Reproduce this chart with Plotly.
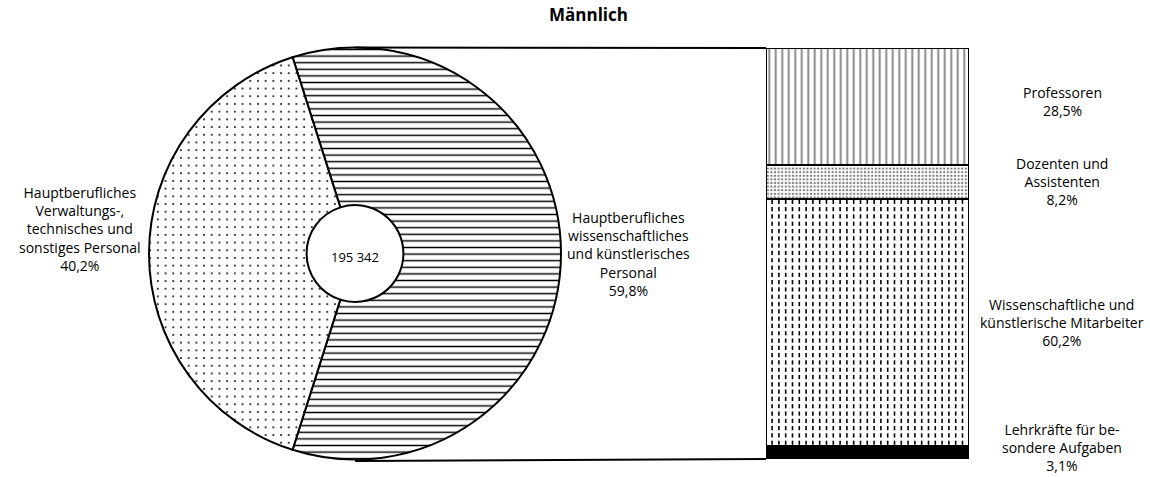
import numpy as np
import plotly.graph_objects as go

# ---------------- data ----------------
title = "Männlich"
total_label = "195 342"

pie_labels = [
    "Hauptberufliches<br>wissenschaftliches<br>und künstlerisches<br>Personal",
    "Hauptberufliches<br>Verwaltungs-,<br>technisches und<br>sonstiges Personal",
]
pie_values = [59.8, 40.2]

# bottom -> top
bar_labels = [
    "Lehrkräfte für be-<br>sondere Aufgaben",
    "Wissenschaftliche und<br>künstlerische Mitarbeiter",
    "Dozenten und<br>Assistenten",
    "Professoren",
]
bar_values = [3.1, 60.2, 8.2, 28.5]

# ---------------- geometry / style ----------------
W, H = 1150, 477
FONT = "Open Sans"
FS = 14


def px(x):
    return x / W


def py(y):
    return 1 - y / H


def pct(v):
    return f"{v:.1f}".replace(".", ",") + "%"


cx, cy, r = 355, 253.5, 206
bar_x0, bar_x1, bar_y0, bar_y1 = 766, 969, 48, 459
label_yshift = [5, 0, 0, 5]

fig = go.Figure()

rotation = -(pie_values[0] * 3.6 - 180) / 2
fig.add_trace(go.Pie(
    values=pie_values,
    labels=[l.replace("<br>", " ") for l in pie_labels],
    sort=False,
    direction="clockwise",
    rotation=rotation,
    hole=0.235,
    textinfo="none",
    hoverinfo="label+percent",
    showlegend=False,
    marker=dict(
        colors=["white", "white"],
        line=dict(color="black", width=2),
        pattern=dict(shape=["-", "."], size=[6.6, 7.7], solidity=[0.22, 0.05],
                     fgcolor="black", bgcolor="white"),
    ),
    domain=dict(x=[px(cx - r), px(cx + r)], y=[py(cy + r), py(cy - r)]),
))

patterns = [
    dict(shape="", fgcolor="black"),
    dict(shape="", fgcolor="black"),
    dict(shape=".", size=3.6, solidity=0.35, fgcolor="black", bgcolor="white"),
    dict(shape="|", size=6.5, solidity=0.28, fgcolor="black", bgcolor="white"),
]
fills = ["black", "white", "white", "white"]
for lab, val, pat, fc in zip(bar_labels, bar_values, patterns, fills):
    fig.add_trace(go.Bar(
        x=[0], y=[val], width=1, name=lab.replace("<br>", " "),
        marker=dict(color=fc, line=dict(color="black", width=2), pattern=pat),
        showlegend=False, hoverinfo="name+y",
    ))

# dashed-tick texture for the "Wissenschaftliche Mitarbeiter" segment
base = bar_values[0]
top = base + bar_values[1]
unit = (bar_y1 - bar_y0) / sum(bar_values)
xs = np.arange(-0.47, 0.48, 6.8 / (bar_x1 - bar_x0))
ys = np.arange(base + 3.5 / unit, top - 1.5 / unit, 7.3 / unit)
gx, gy = np.meshgrid(xs, ys)
fig.add_trace(go.Scatter(
    x=gx.ravel(), y=gy.ravel(), mode="markers", hoverinfo="skip", showlegend=False,
    marker=dict(symbol="line-ns", size=3, line=dict(color="black", width=1.6)),
))

fig.update_layout(
    width=W, height=H,
    margin=dict(l=0, r=0, t=0, b=0),
    paper_bgcolor="white", plot_bgcolor="white",
    barmode="stack", bargap=0,
    xaxis=dict(domain=[px(bar_x0), px(bar_x1)], range=[-0.5, 0.5], visible=False),
    yaxis=dict(domain=[py(bar_y1), py(bar_y0)], range=[0, sum(bar_values)], visible=False),
    font=dict(family=FONT, size=FS, color="black"),
)

# connector lines
fig.add_shape(type="line", xref="paper", yref="paper",
              x0=px(cx), y0=py(cy - r), x1=px(bar_x0), y1=py(bar_y0),
              line=dict(color="black", width=2))
fig.add_shape(type="line", xref="paper", yref="paper",
              x0=px(cx), y0=py(cy + r + 1.5), x1=px(bar_x0), y1=py(bar_y1),
              line=dict(color="black", width=2))

C = dict(showarrow=False, align="center", xanchor="center", yanchor="middle")
ann = []
ann.append(dict(text=f"<b>{title}</b>", x=px(588), y=py(15), xref="paper", yref="paper",
                font=dict(size=17), **C))
ann.append(dict(text=total_label, x=px(cx), y=py(257), xref="paper", yref="paper",
                font=dict(size=13), **C))
ann.append(dict(text=pie_labels[0] + "<br>" + pct(pie_values[0]), x=px(628), y=py(254),
                xref="paper", yref="paper", **C))
ann.append(dict(text=pie_labels[1] + "<br>" + pct(pie_values[1]), x=px(80), y=py(229),
                xref="paper", yref="paper", **C))
cum = 0
for lab, val, ys_ in zip(bar_labels, bar_values, label_yshift):
    mid = cum + val / 2
    cum += val
    ann.append(dict(text=lab + "<br>" + pct(val), x=px(1062), y=mid, xref="paper", yref="y",
                    yshift=ys_, **C))
fig.update_layout(annotations=ann)

fig.write_html("out.html", config={"displayModeBar": False},
               post_script="document.body.style.margin='0';")
